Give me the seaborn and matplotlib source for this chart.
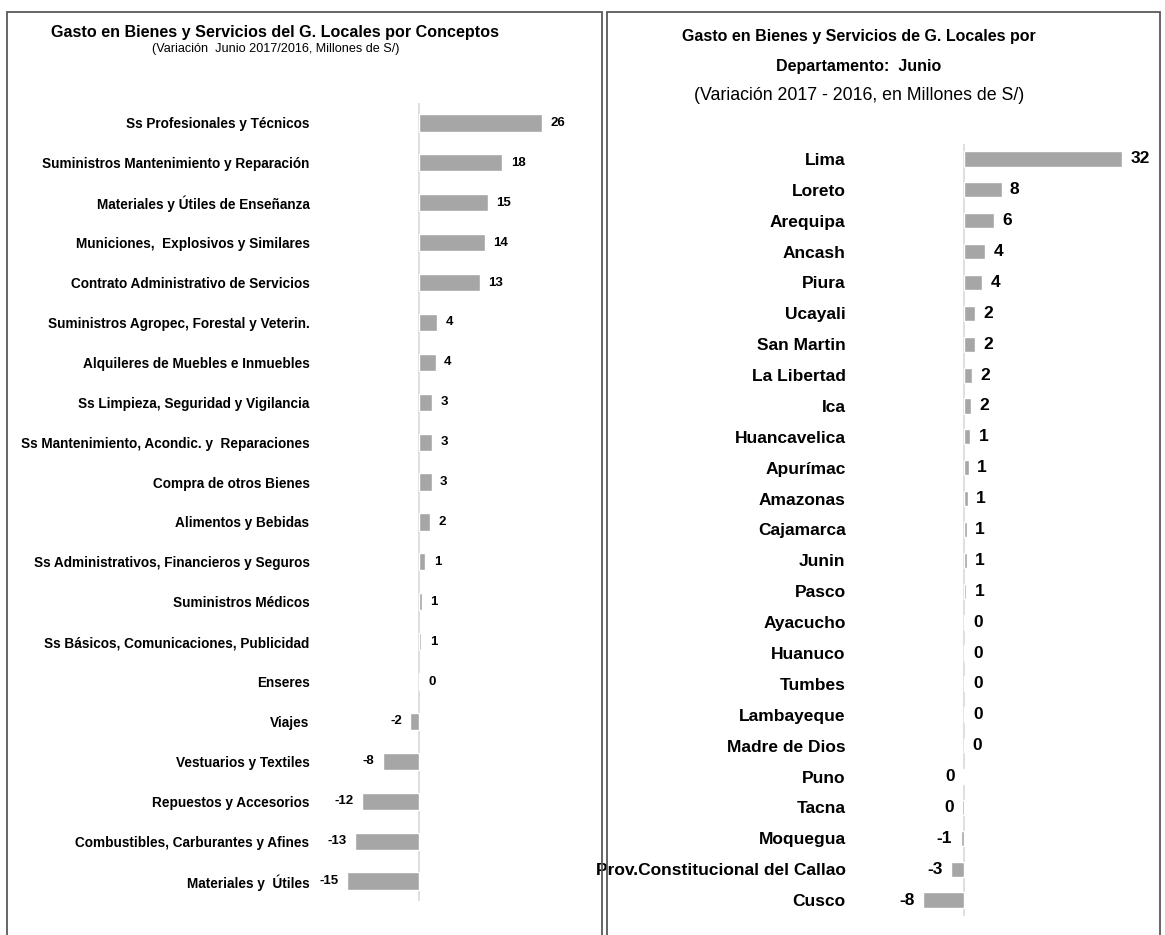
import matplotlib
matplotlib.use("Agg")
import matplotlib.pyplot as plt
import pandas as pd
import seaborn as sns
from matplotlib.patches import Rectangle

# ===========================
# DATOS
# ===========================
conceptos = [
    "Ss Profesionales y Técnicos",
    "Suministros Mantenimiento y Reparación",
    "Materiales y Útiles de Enseñanza",
    "Municiones,  Explosivos y Similares",
    "Contrato Administrativo de Servicios",
    "Suministros Agropec, Forestal y Veterin.",
    "Alquileres de Muebles e Inmuebles",
    "Ss Limpieza, Seguridad y Vigilancia",
    "Ss Mantenimiento, Acondic. y  Reparaciones",
    "Compra de otros Bienes",
    "Alimentos y Bebidas",
    "Ss Administrativos, Financieros y Seguros",
    "Suministros Médicos",
    "Ss Básicos, Comunicaciones, Publicidad",
    "Enseres",
    "Viajes",
    "Vestuarios y Textiles",
    "Repuestos y Accesorios",
    "Combustibles, Carburantes y Afines",
    "Materiales y  Útiles",
]
var_conceptos = [26.0, 17.6, 14.6, 14.0, 12.8, 3.9, 3.6, 2.9, 2.9, 2.7,
                 2.4, 1.4, 0.6, 0.55, 0.3, -1.8, -7.6, -11.9, -13.4, -15.0]

departamentos = [
    "Lima", "Loreto", "Arequipa", "Ancash", "Piura", "Ucayali", "San Martin",
    "La Libertad", "Ica", "Huancavelica", "Apurímac", "Amazonas", "Cajamarca",
    "Junin", "Pasco", "Ayacucho", "Huanuco", "Tumbes", "Lambayeque",
    "Madre de Dios", "Puno", "Tacna", "Moquegua",
    "Prov.Constitucional del Callao", "Cusco",
]
var_departamentos = [32.0, 7.7, 6.2, 4.4, 3.8, 2.4, 2.4, 1.7, 1.5, 1.4,
                     1.1, 0.9, 0.7, 0.65, 0.55, 0.4, 0.3, 0.3, 0.25, 0.05,
                     -0.1, -0.3, -0.6, -2.6, -8.2]

df_con = pd.DataFrame({"concepto": conceptos, "variacion": var_conceptos})
df_dep = pd.DataFrame({"departamento": departamentos, "variacion": var_departamentos})


def etiquetas(vals):
    # redondeo sin "-0"
    return [str(int(round(v))) if round(v) != 0 else "0" for v in vals]


# ===========================
# ESTILO
# ===========================
sns.set_style("white")
plt.rcParams["font.family"] = ["Liberation Sans", "DejaVu Sans"]
plt.rcParams["text.color"] = "black"
plt.rcParams["ytick.color"] = "black"
BAR = "#a6a6a6"
W, H = 1165, 935

fig = plt.figure(figsize=(11.65, 9.35), dpi=100)

# marcos de los paneles
for x0, x1 in [(7, 602), (607, 1160)]:
    fig.add_artist(Rectangle((x0 / W, -0.01), (x1 - x0) / W, 1 - 12 / H + 0.01,
                             transform=fig.transFigure, fill=False,
                             edgecolor="#595959", lw=1.3))

# ===========================
# PANEL IZQUIERDO: CONCEPTOS
# ===========================
ax1 = fig.add_axes([340 / W, 1 - 901 / H, 225 / W, 798 / H])
sns.barplot(data=df_con, x="variacion", y="concepto", orient="h",
            color=BAR, width=0.43, saturation=1, ax=ax1)
ax1.set_xlim(-16.57, 30.8)
ax1.set_ylim(19.5, -0.5)
ax1.axvline(0, color="#d9d9d9", lw=1.2, zorder=0)
ax1.bar_label(ax1.containers[0], labels=etiquetas(var_conceptos), padding=6,
              fontsize=9.5, fontweight="bold", color="black")
ax1.set_xlabel("")
ax1.set_ylabel("")
ax1.set_xticks([])
ax1.tick_params(axis="y", length=0, pad=22)
for lab in ax1.get_yticklabels():
    lab.set_fontsize(9.8)
    lab.set_fontweight("bold")
sns.despine(ax=ax1, left=True, bottom=True)

fig.text(275 / W, 1 - 32 / H, "Gasto en Bienes y Servicios del G. Locales por Conceptos",
         ha="center", va="center", fontsize=11.6, fontweight="bold")
fig.text(276 / W, 1 - 49 / H, "(Variación  Junio 2017/2016, Millones de S/)",
         ha="center", va="center", fontsize=9.1)

# ===========================
# PANEL DERECHO: DEPARTAMENTOS
# ===========================
ax2 = fig.add_axes([915 / W, 1 - 915.5 / H, 235 / W, 772 / H])
sns.barplot(data=df_dep, x="variacion", y="departamento", orient="h",
            color=BAR, width=0.49, saturation=1, ax=ax2)
ax2.set_xlim(-9.8, 37.68)
ax2.set_ylim(24.5, -0.5)
ax2.axvline(0, color="#d9d9d9", lw=1.2, zorder=0)
ax2.bar_label(ax2.containers[0], labels=etiquetas(var_departamentos), padding=6,
              fontsize=12.5, fontweight="bold", color="black")
ax2.set_xlabel("")
ax2.set_ylabel("")
ax2.set_xticks([])
ax2.tick_params(axis="y", length=0, pad=50)
for lab in ax2.get_yticklabels():
    lab.set_fontsize(12.5)
    lab.set_fontweight("bold")
sns.despine(ax=ax2, left=True, bottom=True)

fig.text(859 / W, 1 - 37 / H, "Gasto en Bienes y Servicios de G. Locales por",
         ha="center", va="center", fontsize=11.5, fontweight="bold")
fig.text(859 / W, 1 - 67 / H, "Departamento:  Junio",
         ha="center", va="center", fontsize=11.5, fontweight="bold")
fig.text(859 / W, 1 - 96 / H, "(Variación 2017 - 2016, en Millones de S/)",
         ha="center", va="center", fontsize=12.8)

fig.savefig("out.png", dpi=100)
